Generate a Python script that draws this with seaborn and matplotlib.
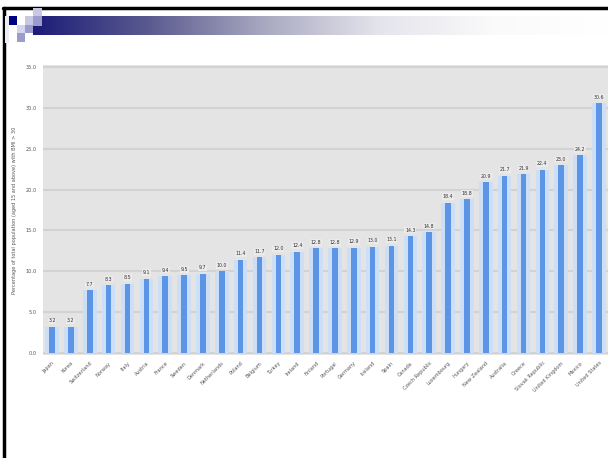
import matplotlib
matplotlib.use("Agg")
import matplotlib.pyplot as plt
import seaborn as sns
import numpy as np
from matplotlib.patches import Rectangle
from matplotlib.colors import LinearSegmentedColormap

countries = ["Japan", "Korea", "Switzerland", "Norway", "Italy", "Austria", "France",
             "Sweden", "Denmark", "Netherlands", "Poland", "Belgium", "Turkey", "Ireland",
             "Finland", "Portugal", "Germany", "Iceland", "Spain", "Canada",
             "Czech Republic", "Luxembourg", "Hungary", "New Zealand", "Australia",
             "Greece", "Slovak Republic", "United Kingdom", "Mexico", "United States"]
values = [3.2, 3.2, 7.7, 8.3, 8.5, 9.1, 9.4, 9.5, 9.7, 10.0, 11.4, 11.7, 12.0, 12.4,
          12.8, 12.8, 12.9, 13.0, 13.1, 14.3, 14.8, 18.4, 18.8, 20.9, 21.7, 21.9,
          22.4, 23.0, 24.2, 30.6]
yticks = [0, 5, 10, 15, 20, 25, 30, 35]
ylabel = "Percentage of total population (aged 15 and above) with BMI > 30"

sns.set_theme(style="white")
plt.rcParams['font.family'] = ['DejaVu Sans']

W, H = 608, 458
fig = plt.figure(figsize=(W / 100, H / 100), dpi=100)
fig.patch.set_facecolor("white")

def fx(px):
    return px / W

def fy(py):
    return 1 - py / H

# header gradient bar
gax = fig.add_axes([fx(33), fy(35), fx(608 - 33), (35 - 16) / H])
cmap = LinearSegmentedColormap.from_list("g", ["#1c1c78", "#5a5a90", "#a8a8c0", "#e4e4ec", "#fafafa", "#ffffff"])
gax.imshow(np.linspace(0, 1, 256)[None, :], aspect="auto", cmap=cmap)
gax.axis("off")

# decorative squares
sq = [(9, 16, 8, 9, "#000080"), (25, 16, 8, 9, "#c8c8e4"),
      (33, 8, 9, 8, "#c8c8e4"), (33, 16, 9, 10, "#9c9ccc"), (17, 25, 8, 8, "#d4d4ec"),
      (25, 25, 8, 8, "#9c9ccc"), (17, 33, 8, 9, "#9c9ccc"), (5, 16, 4, 27, "#ececf4")]
for x, y, w, h, c in sq:
    fig.patches.append(Rectangle((fx(x), fy(y + h)), fx(w), h / H, transform=fig.transFigure,
                                 facecolor=c, edgecolor="none", zorder=3))

# frame lines
fig.add_artist(plt.Line2D([fx(3), 1], [fy(8), fy(8)], color="black", lw=2.5, transform=fig.transFigure))
fig.add_artist(plt.Line2D([fx(4), fx(4)], [0, fy(8)], color="black", lw=2.5, transform=fig.transFigure))

# main axes
ax = fig.add_axes([fx(42.6), fy(355), fx(608.4 - 42.6), (355 - 65) / H])
ax.set_facecolor("#e4e4e4")
sns.barplot(x=countries, y=values, ax=ax, color="#cddff7", width=0.72, saturation=1,
            linewidth=0, edgecolor="none", zorder=2)
sns.barplot(x=countries, y=values, ax=ax, color="#5c94e6", width=0.3, saturation=1,
            linewidth=0, edgecolor="none", zorder=3)
ax.set_ylim(-0.25, 35.25)
ax.set_xlim(-0.5, len(countries) - 0.5)
ax.set_yticks(yticks)
ax.set_yticklabels([f"{t:.1f}" for t in yticks], fontsize=3.6, color="#555555")
ax.yaxis.grid(True, color="#d2d2d2", lw=1.5, zorder=1)
ax.set_axisbelow(True)
for s in ax.spines.values():
    s.set_visible(False)
ax.tick_params(axis="both", length=0, pad=4)
ax.set_xticks(range(len(countries)))
ax.set_xticklabels(countries, rotation=45, ha="right", rotation_mode="anchor",
                   fontsize=3.6, color="#555555")
ax.set_xlabel("")
ax.set_ylabel(ylabel, fontsize=3.6, color="#555555", labelpad=6)
ax.bar_label(ax.containers[1], fmt="%.1f", fontsize=3.4, color="#333333", padding=2.5,
             bbox=dict(boxstyle="square,pad=0.15", fc="#ebebeb", ec="none"))

fig.savefig("out.png", dpi=100)
